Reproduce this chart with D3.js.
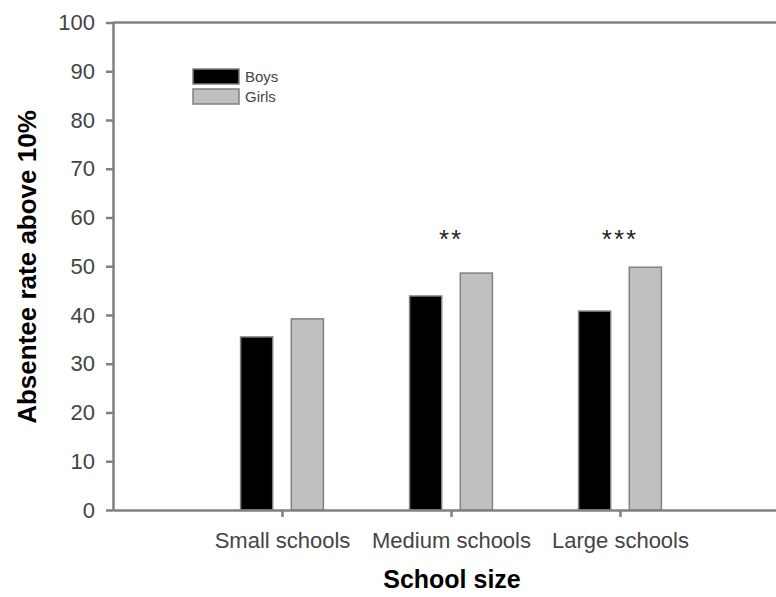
<!DOCTYPE html>
<html>
<head>
<meta charset="utf-8">
<script src="https://cdn.jsdelivr.net/npm/d3@7"></script>
<style>
  body { margin: 0; background: #fff; }
  svg { display: block; font-family: "Liberation Sans", Arial, sans-serif; }
</style>
</head>
<body>
<svg id="chart" width="776" height="597"></svg>
<script>
// datos
const categorias = ["Small schools", "Medium schools", "Large schools"];
const boys = [35.5, 43.9, 40.8];
const girls = [39.2, 48.6, 49.8];
const estrellas = ["", "**", "***"];
const yTicks = [0, 10, 20, 30, 40, 50, 60, 70, 80, 90, 100];
const series = ["Boys", "Girls"];

var svg = d3.select("#chart"),
    grisEje = "#808080",
    colores = ["#000000", "#c0c0c0"];

var x = d3.scaleLinear().domain([0, 4]).range([113, 789]);
var y = d3.scaleLinear().domain([0, 100]).range([510, 22.5]);

var anchoBarra = 0.19, desplaz = 0.15;

// barras
var grupos = svg.append("g")
    .selectAll("g")
    .data(categorias)
    .join("g");

grupos.each(function (c, i) {
    var g = d3.select(this);
    var vals = [boys[i], girls[i]];
    vals.forEach(function (v, j) {
        var centro = (i + 1) + (j == 0 ? -desplaz : desplaz);
        g.append("rect")
            .attr("x", x(centro - anchoBarra / 2))
            .attr("y", y(v))
            .attr("width", x(anchoBarra) - x(0))
            .attr("height", y(0) - y(v))
            .attr("fill", colores[j])
            .attr("stroke", grisEje)
            .attr("stroke-width", 1.5);
    });
});

// estrellas de significancia
svg.append("g")
    .selectAll("text")
    .data(estrellas)
    .join("text")
    .attr("x", (d, i) => x(i + 1))
    .attr("y", 248)
    .attr("text-anchor", "middle")
    .attr("font-size", 26)
    .attr("letter-spacing", 2)
    .attr("fill", "#222")
    .text(d => d);

// eje y
var ejeY = svg.append("g")
    .attr("transform", "translate(" + x(0) + ",0)")
    .call(d3.axisLeft(y).tickValues(yTicks).tickSize(7).tickSizeOuter(0).tickPadding(11));

// eje x
var ejeX = svg.append("g")
    .attr("transform", "translate(0," + y(0) + ")")
    .call(d3.axisBottom(x).tickValues([1, 2, 3])
        .tickFormat(d => categorias[d - 1])
        .tickSize(7).tickSizeOuter(0).tickPadding(15));

[ejeY, ejeX].forEach(function (e) {
    e.select(".domain").attr("stroke", grisEje).attr("stroke-width", 2.5);
    e.selectAll(".tick line").attr("stroke", grisEje).attr("stroke-width", 2.5);
    e.selectAll(".tick text").attr("font-size", 22).attr("fill", "#444")
        .attr("font-family", "Liberation Sans, Arial, sans-serif");
});

// linea superior del marco
svg.append("line")
    .attr("x1", x(0)).attr("x2", x(4))
    .attr("y1", y(100)).attr("y2", y(100))
    .attr("stroke", grisEje)
    .attr("stroke-width", 2.5);

// leyenda
var leyenda = svg.append("g")
    .selectAll("g")
    .data(series)
    .join("g")
    .attr("transform", (d, i) => "translate(193," + (69 + i * 20) + ")");

leyenda.append("rect")
    .attr("width", 46)
    .attr("height", 15)
    .attr("fill", (d, i) => colores[i])
    .attr("stroke", grisEje)
    .attr("stroke-width", 1.5);

leyenda.append("text")
    .attr("x", 52)
    .attr("y", 13)
    .attr("font-size", 15)
    .attr("fill", "#444")
    .text(d => d);

// titulos
svg.append("text")
    .attr("transform", "translate(36,267) rotate(-90)")
    .attr("text-anchor", "middle")
    .attr("font-size", 26)
    .attr("font-weight", "bold")
    .text("Absentee rate above 10%");

svg.append("text")
    .attr("x", 452)
    .attr("y", 588)
    .attr("text-anchor", "middle")
    .attr("font-size", 25)
    .attr("font-weight", "bold")
    .text("School size");
</script>
</body>
</html>
